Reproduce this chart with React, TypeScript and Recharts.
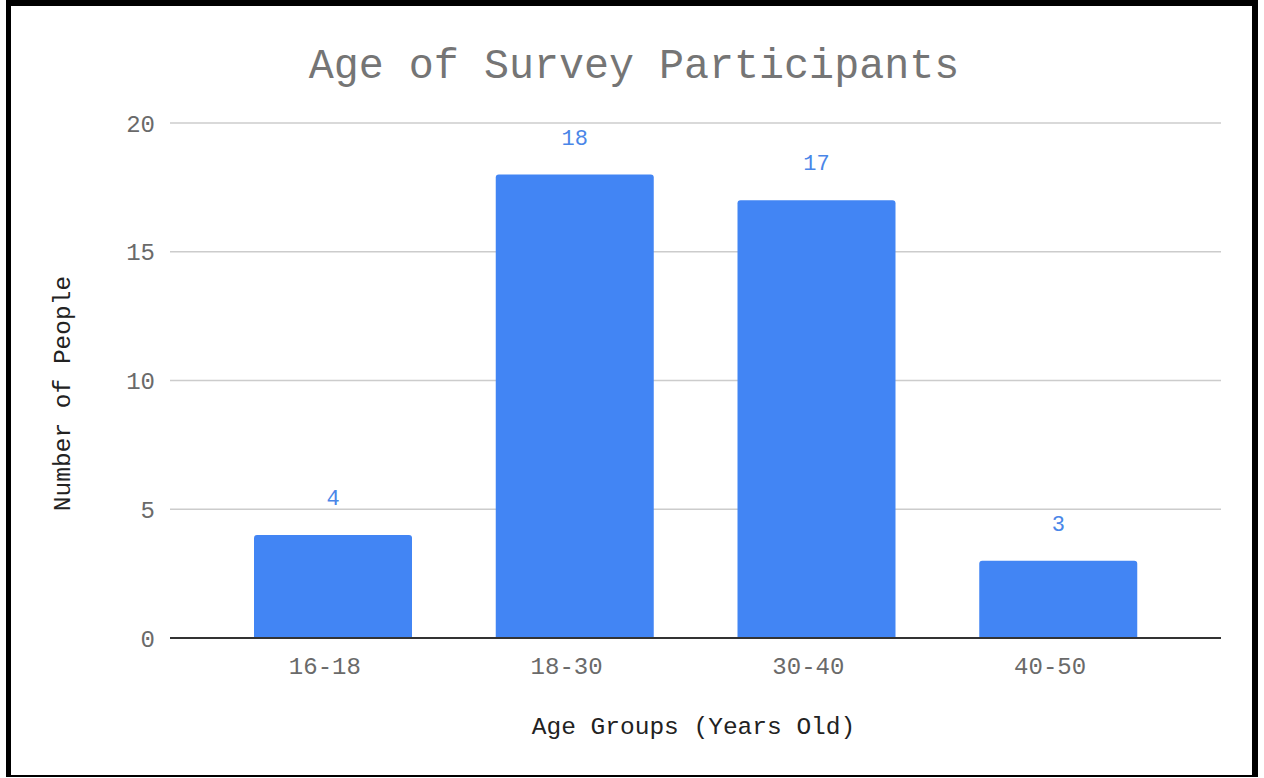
import React from 'react';
import { BarChart, Bar, XAxis, YAxis, CartesianGrid, LabelList, Label } from 'recharts';

// Age groups and how many participants fell into each
const ageGroups = ['16-18', '18-30', '30-40', '40-50'];
const participants = [4, 18, 17, 3];
const yTicks = [0, 5, 10, 15, 20];

const data = ageGroups.map((group, i) => ({ group, people: participants[i] }));

const mono = '"Liberation Mono", "Courier New", monospace';

const App: React.FC = () => {
  return (
    <div
      style={{
        position: 'fixed',
        left: 0,
        top: 0,
        width: 1264,
        height: 778,
        background: '#fff',
        fontFamily: mono,
      }}
    >
      {/* black frame around the chart */}
      <div
        style={{
          position: 'absolute',
          left: 6,
          top: 0,
          width: 1252,
          height: 777,
          boxSizing: 'border-box',
          borderTop: '6px solid #000',
          borderLeft: '5px solid #000',
          borderRight: '6px solid #000',
          borderBottom: '2px solid #000',
        }}
      />
      <div
        style={{
          position: 'absolute',
          left: 0,
          width: 1268,
          top: 47,
          textAlign: 'center',
          fontSize: 41.7,
          lineHeight: '41px',
          color: '#757575',
          whiteSpace: 'pre',
        }}
      >
        Age of Survey Participants
      </div>
      <div style={{ position: 'absolute', left: 0, top: 0 }}>
        <BarChart
          width={1264}
          height={778}
          data={data}
          margin={{ top: 123, right: 43, bottom: 0, left: 0 }}
          barSize={158}
        >
          <CartesianGrid vertical={false} stroke="#cccccc" strokeWidth={1.5} />
          <XAxis
            dataKey="group"
            height={140}
            padding={{ left: 42, right: 42 }}
            tickLine={false}
            tickSize={0}
            tickMargin={19}
            axisLine={{ stroke: '#333333', strokeWidth: 2 }}
            tick={{ fill: '#6a6a6a', fontSize: 24, fontFamily: mono, dx: -8 }}
          >
            <Label
              content={({ viewBox }: any) => (
                <text
                  x={viewBox.x + viewBox.width / 2 - 2}
                  y={727}
                  textAnchor="middle"
                  dominantBaseline="central"
                  fill="#222222"
                  fontSize={24.5}
                  fontFamily={mono}
                >
                  Age Groups (Years Old)
                </text>
              )}
            />
          </XAxis>
          <YAxis
            width={170}
            domain={[0, 20]}
            ticks={yTicks}
            tickLine={false}
            axisLine={false}
            tickSize={0}
            tickMargin={15}
            tick={{ fill: '#6a6a6a', fontSize: 24, fontFamily: mono }}
          >
            <Label
              content={({ viewBox }: any) => (
                <text
                  x={63}
                  y={viewBox.y + viewBox.height / 2 + 13}
                  transform={`rotate(-90 63 ${viewBox.y + viewBox.height / 2 + 13})`}
                  textAnchor="middle"
                  dominantBaseline="central"
                  fill="#222222"
                  fontSize={24.5}
                  fontFamily={mono}
                >
                  Number of People
                </text>
              )}
            />
          </YAxis>
          <Bar dataKey="people" fill="#4285f4" radius={[3, 3, 0, 0]} isAnimationActive={false}>
            <LabelList
              dataKey="people"
              position="top"
              offset={30}
              fill="#4a86e8"
              fontSize={22}
              fontFamily={mono}
            />
          </Bar>
        </BarChart>
      </div>
    </div>
  );
};

export default App;
